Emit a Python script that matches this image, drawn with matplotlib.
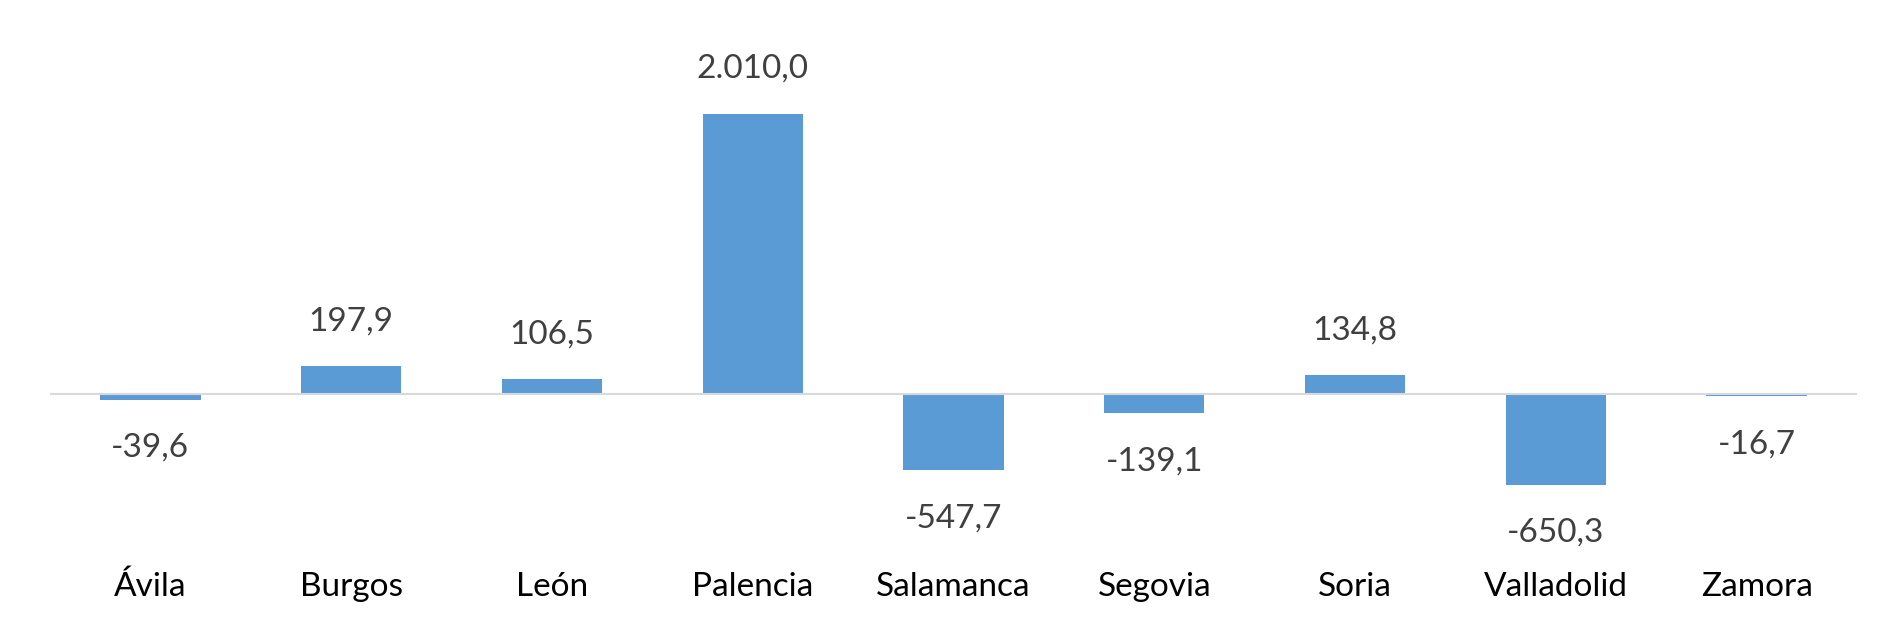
import matplotlib
matplotlib.use("Agg")
import matplotlib.pyplot as plt
import matplotlib.transforms as mtransforms

provincias = ["Ávila", "Burgos", "León", "Palencia", "Salamanca",
              "Segovia", "Soria", "Valladolid", "Zamora"]
valores = [-39.6, 197.9, 106.5, 2010.0, -547.7, -139.1, 134.8, -650.3, -16.7]


def fmt_es(v):
    # 2010.0 -> "2.010,0"
    s = f"{v:,.1f}"
    return s.replace(",", "X").replace(".", ",").replace("X", ".")


plt.rcParams['font.family'] = ['Lato', 'DejaVu Sans']

fig = plt.figure(figsize=(19, 6.31), dpi=100)
ax = fig.add_axes([50 / 1900, 0, (1857 - 50) / 1900, 1])

x = list(range(len(provincias)))
ax.bar(x, valores, width=0.5, color='#5b9bd5', zorder=2)
ax.axhline(0, color='#d9d9d9', lw=1.5, zorder=3)

ax.set_xlim(-0.5, len(provincias) - 0.5)
ax.set_ylim(-1701, 2828)
ax.axis('off')

for xi, v in zip(x, valores):
    if v >= 0:
        off = 26
    else:
        off = -41
    ax.annotate(fmt_es(v), (xi, v), xytext=(0, off), textcoords='offset points',
                ha='center', va='baseline', fontsize=24, color='#404040')

trans = mtransforms.blended_transform_factory(ax.transData, ax.transAxes)
for xi, name in zip(x, provincias):
    ax.text(xi, 35 / 631, name, transform=trans, ha='center', va='baseline',
            fontsize=24, color='#000000')

fig.savefig("out.png", dpi=100, facecolor='white')
